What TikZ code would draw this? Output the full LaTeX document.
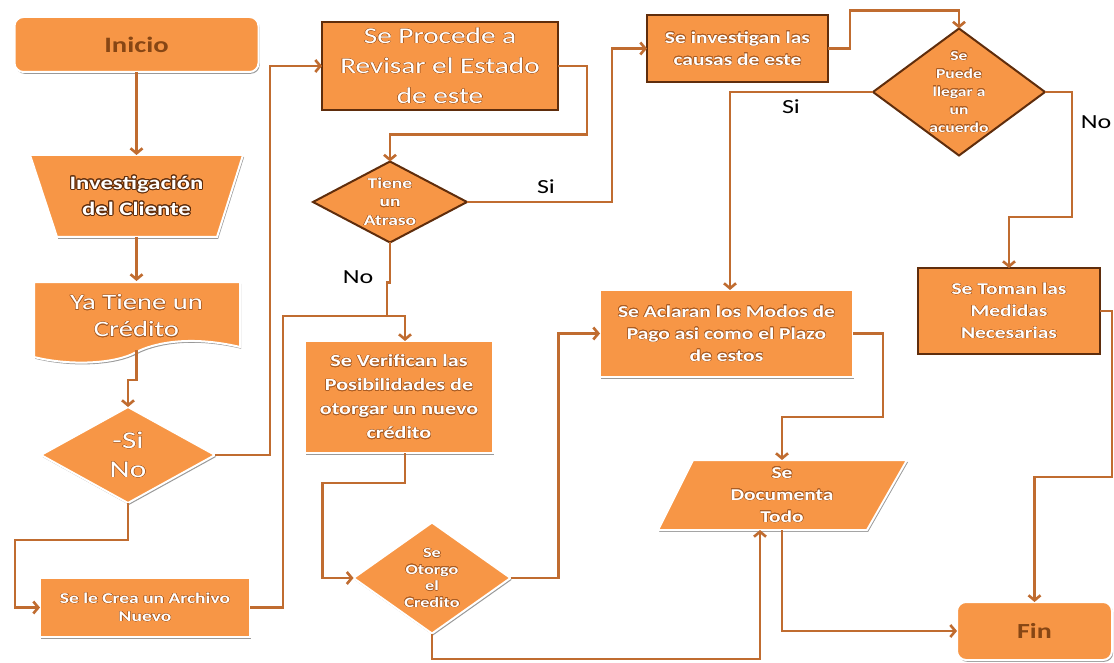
\documentclass[tikz,border=0pt]{standalone}
\usepackage{fontspec}
\setmainfont{Carlito}[FakeStretch=1.3]
\usepackage{contour}
\usetikzlibrary{arrows.meta,shadows,shapes.geometric,backgrounds}

\definecolor{boxfill}{RGB}{247,150,70}
\definecolor{edgebrown}{RGB}{95,45,12}
\definecolor{linkcol}{RGB}{192,108,48}
\definecolor{titlebrown}{RGB}{135,70,20}
\definecolor{glowbrown}{RGB}{170,92,35}

\contourlength{0.45pt}
% white lettering with a thin brown rim
\newcommand\wt[1]{\contour{glowbrown}{#1}}
% white lettering with a heavy dark rim
\newcommand\hv[1]{{\contourlength{1pt}\contour{edgebrown}{#1}}}
\newcommand\fs[2]{\fontsize{#1}{#2}\selectfont}

\tikzset{
  fillbase/.style={fill=boxfill, line width=2pt},
  litshape/.style={fillbase, draw=white,
    drop shadow={shadow xshift=1.2pt, shadow yshift=-1.8pt, opacity=0.4, fill=black}},
  darkshape/.style={fillbase, draw=edgebrown},
  inner/.style={align=center, text=white, inner sep=0pt, outer sep=0pt},
  litbox/.style={litshape, inner},
  darkbox/.style={darkshape, inner},
  textonly/.style={inner},
  % decision symbol: its size comes from minimum width/height only
  decision/.style={diamond, inner sep=-8pt},
  link/.style={draw=linkcol, line width=2.6pt},
  arr/.style={link, -{Straight Barb[length=5pt,width=12pt]}},
  lbl/.style={font=\fs{20}{22}, text=black, inner sep=0pt}
}

\begin{document}
\begin{tikzpicture}[x=1pt,y=-1pt]
\useasboundingbox (0,0) rectangle (1114,663);

% ---------- boxes ----------
\node[litbox, rounded corners=9pt, minimum width=244pt, minimum height=55pt,
      text=titlebrown, font=\bfseries\fs{22}{24}] (inicio) at (136.5,44.5) {Inicio};

\node[textonly, minimum width=212pt, minimum height=82pt, font=\bfseries\fs{19}{26}]
  (invest) at (136.5,196) {\hv{Investigación}\\\hv{del Cliente}};

\node[textonly, minimum width=206pt, minimum height=70pt, font=\fs{22}{27}]
  (yatiene) at (136.5,316) {\wt{Ya Tiene un}\\\wt{Crédito}};

\node[litbox, decision, minimum width=174pt, minimum height=96pt,
      font=\fs{24}{29}] (sino) at (128,455) {\wt{-Si}\\\wt{No}};

\node[litbox, minimum width=210pt, minimum height=59pt, font=\bfseries\fs{15}{18}]
  (crea) at (145,607.5) {\wt{Se le Crea un Archivo}\\\wt{Nuevo}};

\node[darkbox, minimum width=236pt, minimum height=88pt, font=\fs{22.5}{30}]
  (procede) at (440,66) {\wt{Se Procede a}\\\wt{Revisar el Estado}\\\wt{de este}};

\node[darkbox, decision, minimum width=154pt, minimum height=81pt,
      font=\bfseries\fs{15}{18.5}] (atraso) at (390,202) {\wt{Tiene}\\\wt{un}\\\wt{Atraso}};

\node[litbox, minimum width=188pt, minimum height=112pt, font=\bfseries\fs{17}{24}]
  (verif) at (399,397) {\wt{Se Verifican las}\\\wt{Posibilidades de}\\\wt{otorgar un nuevo}\\\wt{crédito}};

\node[litbox, decision, minimum width=157pt, minimum height=111pt,
      font=\bfseries\fs{14}{16.5}] (otorgo) at (432,578) {\wt{Se}\\\wt{Otorgo}\\\wt{el}\\\wt{Credito}};

\node[darkbox, minimum width=181pt, minimum height=67pt, font=\bfseries\fs{16.5}{22}]
  (causas) at (737.5,48.5) {\wt{Se investigan las}\\\wt{causas de este}};

\node[darkbox, decision, minimum width=172pt, minimum height=127pt,
      font=\bfseries\fs{13.5}{18}] (acuerdo) at (959,92)
  {\wt{Se}\\\wt{Puede}\\\wt{llegar a}\\\wt{un}\\\wt{acuerdo}};

\node[litbox, minimum width=253pt, minimum height=87pt, font=\bfseries\fs{16.5}{22}]
  (aclaran) at (726.5,333.5) {\wt{Se Aclaran los Modos de}\\\wt{Pago asi como el Plazo}\\\wt{de estos}};

\node[textonly, minimum width=214pt, minimum height=70pt, font=\bfseries\fs{16.5}{22}]
  (docu) at (782,495) {\wt{Se}\\\wt{Documenta}\\\wt{Todo}};

\node[darkbox, minimum width=182pt, minimum height=86pt, font=\bfseries\fs{16.5}{22}]
  (toman) at (1009,311) {\wt{Se Toman las}\\\wt{Medidas}\\\wt{Necesarias}};

\node[litbox, rounded corners=9pt, minimum width=155pt, minimum height=58pt,
      text=titlebrown, font=\bfseries\fs{21.5}{24}] (fin) at (1034.5,631) {Fin};

% ---------- outlines of the non-rectangular symbols ----------
\begin{scope}[on background layer]
  \fill[white] (0,0) rectangle (1114,663);
  % manual operation
  \path[litshape] (30,155) -- (243,155) -- (217,237) -- (57,237) -- cycle;
  % document
  \path[litshape] (34,282) -- (240,282) -- (240,347)
     .. controls (185,334) and (150,345) .. (136.5,352)
     .. controls (115,364) and (70,366) .. (34,357) -- cycle;
  % data
  \path[litshape] (693,460) -- (907,460) -- (867,530) -- (658,530) -- cycle;
\end{scope}

% ---------- connectors ----------
\draw[arr] (inicio.south) -- (invest.north);
\draw[arr] (invest.south) -- (yatiene.north);
\draw[arr] ([yshift=1pt]yatiene.south) -- ++(0,30) -| (sino.north);
\draw[arr] (sino.east) -- ++(55,0) |- (procede.west);
\draw[arr] (sino.south) -- ++(0,37) -| ([xshift=-25pt]crea.west) -- (crea.west);
\draw[arr] (crea.east) -- ++(33,0) |- ([xshift=6pt,yshift=25pt]verif.north) -- ([xshift=6pt]verif.north);
\draw[link] (atraso.south) -- ++(0,40) -| ([xshift=-12pt,yshift=25pt]verif.north);
\draw[arr] (procede.east) -- ++(29,0) |- ([yshift=27pt]atraso.north) -- (atraso.north);
\draw[arr] (atraso.east) -- ++(145,0) |- (causas.west);
\draw[arr] ([xshift=6pt]verif.south) -- ++(0,30) -| ([xshift=-31pt]otorgo.west) -- (otorgo.west);
\draw[arr] (otorgo.east) -- ++(48,0) |- (aclaran.west);
\draw[arr] (otorgo.south) -- ++(0,25.5) -| ([xshift=-22pt]docu.south);
\draw[arr] (docu.south) |- (fin.west);
\draw[arr] (causas.east) -- ++(22,0) |- ([yshift=18pt]acuerdo.north) -- (acuerdo.north);
\draw[arr] (acuerdo.west) -| ([xshift=3.5pt]aclaran.north);
\draw[arr] (acuerdo.east) -- ++(27,0) |- ([yshift=51pt]toman.north) -- (toman.north);
\draw[arr] (aclaran.east) -- ++(30,0) |- ([yshift=43pt]docu.north) -- (docu.north);
\draw[arr] (toman.east) -- ++(12,0) |- ([yshift=125pt]fin.north) -- (fin.north);

% ---------- branch labels ----------
\node[lbl] (siatraso) at (546,187) {Si};
\node[lbl] (noatraso) at (358,277) {No};
\node[lbl] (siacuerdo) at (791,107) {Si};
\node[lbl] (noacuerdo) at (1096,122) {No};
\end{tikzpicture}
\end{document}
